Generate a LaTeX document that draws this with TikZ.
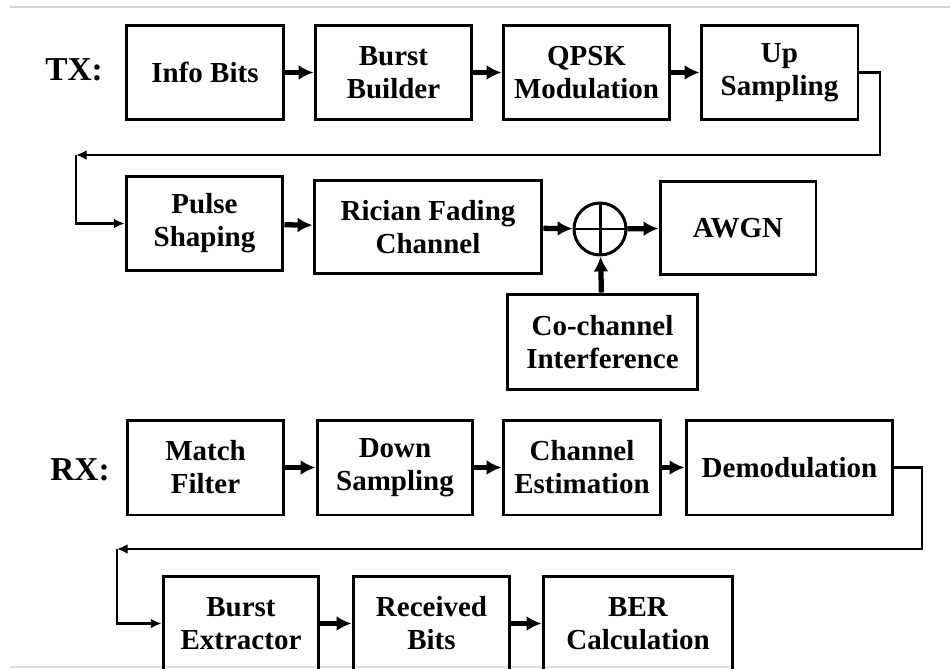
\documentclass[tikz,border=0pt]{standalone}
\usepackage{fontspec}
\setmainfont{Liberation Serif}
\usetikzlibrary{arrows.meta}

\tikzset{
    blk/.style={draw, line width=1.7pt, align=center, inner sep=0pt,
        minimum height=1.9cm, font=\bfseries\fontsize{16.5}{18.7}\selectfont},
    flow/.style={line width=3pt, -{Latex[length=8.5pt,width=8.5pt]}},
    back/.style={line width=1.3pt, -{Latex[length=6pt,width=5.5pt]}},
    lbl/.style={font=\bfseries\fontsize{19}{22}\selectfont}
}

\begin{document}
\begin{tikzpicture}[x=0.02cm, y=-0.02cm]
    \useasboundingbox (0,0) rectangle (950,669);
    \clip (0,0) rectangle (950,669);

    %RULES
    \draw[gray!35, line width=1pt] (10,7) -- (950,7);
    \draw[gray!25, line width=1pt] (10,667) -- (733,667);

    %TX
    \node[lbl] (tx) at (74,70) {TX:};
    \node[blk, minimum width=3.16cm] (info) at (205,72.5) {Info Bits};
    \node[blk, minimum width=3.14cm] (burst) at (393.5,72.5) {Burst\\Builder};
    \node[blk, minimum width=3.34cm] (qpsk) at (586.5,72.5) {QPSK\\Modulation};
    \node[blk, minimum width=3.14cm] (up) at (779.5,72.5) {Up\\Sampling};

    \node[blk, minimum width=3.14cm] (pulse) at (204.5,223.5) {Pulse\\Shaping};
    \node[blk, minimum width=4.56cm, minimum height=1.88cm] (rician) at (428,227) {Rician Fading\\Channel};
    \node[draw, circle, line width=1.7pt, minimum size=1.04cm] (sum) at (600,229) {};
    \node[blk, minimum width=3.12cm, minimum height=1.88cm] (awgn) at (738,228) {AWGN};
    \node[blk, minimum width=3.82cm, minimum height=1.92cm] (cci) at (602.5,342) {Co-channel\\Interference};

    \draw[line width=1.7pt] (sum.north) -- (sum.south) (sum.west) -- (sum.east);

    \draw[flow] (info) -- (burst);
    \draw[flow] (burst) -- (qpsk);
    \draw[flow] (qpsk) -- (up);
    \coordinate (tr) at (880,155);
    \coordinate (tl) at (76,155);
    \draw[back] (up.east) -| (tr) -- (tl);
    \draw[back] (tl) |- (pulse.west);
    \draw[flow] (pulse) -- (rician);
    \draw[flow] (rician) -- (sum);
    \draw[flow] (sum) -- (awgn);
    \draw[flow] (cci) -- (sum);

    %RX
    \node[lbl] (rx) at (80,470) {RX:};
    \node[blk, minimum width=3.14cm] (match) at (205.5,467.5) {Match\\Filter};
    \node[blk, minimum width=3.12cm] (down) at (395,467.5) {Down\\Sampling};
    \node[blk, minimum width=3.16cm] (chest) at (582,467.5) {Channel\\Estimation};
    \node[blk, minimum width=4.14cm] (demod) at (789.5,467.5) {Demodulation};

    \node[blk, minimum width=3.12cm] (extr) at (241,623.5) {Burst\\Extractor};
    \node[blk, minimum width=3.14cm] (recv) at (431.5,623.5) {Received\\Bits};
    \node[blk, minimum width=3.8cm] (ber) at (638,623.5) {BER\\Calculation};

    \draw[flow] (match) -- (down);
    \draw[flow] (down) -- (chest);
    \draw[flow] (chest) -- (demod);
    \coordinate (br) at (922,549);
    \coordinate (bl) at (117,549);
    \draw[back] (demod.east) -| (br) -- (bl);
    \draw[back] (bl) |- (extr.west);
    \draw[flow] (extr) -- (recv);
    \draw[flow] (recv) -- (ber);
\end{tikzpicture}
\end{document}
